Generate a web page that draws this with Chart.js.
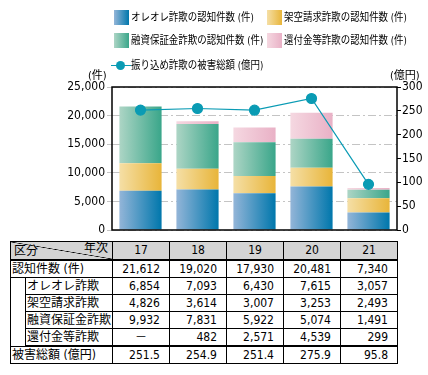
<!DOCTYPE html>
<html>
<head>
<meta charset="utf-8">
<script src="https://cdn.jsdelivr.net/npm/chart.js@4/dist/chart.umd.min.js"></script>
<style>
  body { margin: 0; background: #fff; }
  #wrap { position: relative; width: 428px; height: 375px; overflow: hidden;
          font-family: "Liberation Sans Narrow", "DejaVu Sans Condensed", "Noto Sans CJK JP", sans-serif; color: #000; }
  #chart { position: absolute; left: 0; top: 0; }
  .lg { position: absolute; font-size: 11px; line-height: 15px; white-space: nowrap;
        transform: scaleX(0.86); transform-origin: left center; }
  .sw { position: absolute; width: 15px; height: 15px; }
  .unit { position: absolute; font-size: 11px; white-space: nowrap; }
  table { position: absolute; left: 10px; top: 241px; border-collapse: collapse; table-layout: fixed; font-size: 12px; }
  td { border: 1px solid #000; height: 16px; padding: 0; line-height: 15px; white-space: nowrap; overflow: hidden; }
  td.num { text-align: right; padding-right: 9px; font-size: 12px; }
  td.hd { background: #d4d4d4; text-align: center; font-size: 12px; }
  td.lbl { padding-left: 1px; }
  td.sp { border-top: none; border-bottom: none; }
  tr.thick td { border-bottom: 2px solid #000; }
  #corner { position: relative; height: 17px;
    background: linear-gradient(to top right, transparent calc(50% - 0.6px), #000 50%, transparent calc(50% + 0.6px)); }
</style>
</head>
<body>
<div id="wrap">
  <canvas id="chart" width="428" height="240"></canvas>

  <div class="sw" style="left:114px;top:10px;background:linear-gradient(to right,#93b5d8,#0077ac)"></div>
  <div class="lg" style="left:131px;top:10px">オレオレ詐欺の認知件数 (件)</div>
  <div class="sw" style="left:267px;top:10px;background:linear-gradient(to right,#f5dfa6,#e8b53a)"></div>
  <div class="lg" style="left:284px;top:10px">架空請求詐欺の認知件数 (件)</div>
  <div class="sw" style="left:114px;top:33px;background:linear-gradient(to right,#add5c5,#3aa68a)"></div>
  <div class="lg" style="left:131px;top:33px">融資保証金詐欺の認知件数 (件)</div>
  <div class="sw" style="left:267px;top:33px;background:linear-gradient(to right,#f5d8e1,#e9b1c6)"></div>
  <div class="lg" style="left:284px;top:33px">還付金等詐欺の認知件数 (件)</div>
  <div style="position:absolute;left:111px;top:65px;width:20px;height:1px;background:#0a9bb4"></div>
  <div style="position:absolute;left:116px;top:61px;width:9px;height:9px;border-radius:50%;background:#0a9bb4"></div>
  <div class="lg" style="left:131px;top:58px">振り込め詐欺の被害総額 (億円)</div>
  <div class="unit" style="left:88px;top:66px">(件)</div>
  <div class="unit" style="left:390px;top:66px">(億円)</div>

  <table id="tbl"></table>
</div>
<script>
// data
const years = ['17', '18', '19', '20', '21'];
const oreore = [6854, 7093, 6430, 7615, 3057];
const kakuu = [4826, 3614, 3007, 3253, 2493];
const yushi = [9932, 7831, 5922, 5074, 1491];
const kanpu = [null, 482, 2571, 4539, 299];
const totalCount = [21612, 19020, 17930, 20481, 7340];
const damage = [251.5, 254.9, 251.4, 275.9, 95.8];

const FONT = '"Liberation Sans Narrow", "DejaVu Sans Condensed", "Noto Sans CJK JP", sans-serif';

// horizontal gradient per bar
const grad = (light, dark) => (ctx) => {
    const chart = ctx.chart;
    if (!chart.chartArea || ctx.dataIndex === undefined) return dark;
    const x = chart.scales.x.getPixelForValue(ctx.dataIndex);
    const g = chart.ctx.createLinearGradient(x - 21, 0, x + 21, 0);
    g.addColorStop(0, light);
    g.addColorStop(1, dark);
    return g;
};

const frame = {
    id: 'frame',
    afterDatasetsDraw(chart) {
        const { ctx, chartArea: a } = chart;
        ctx.save();
        ctx.strokeStyle = '#000';
        ctx.lineWidth = 1.5;
        ctx.strokeRect(a.left, a.top, a.right - a.left, a.bottom - a.top);
        ctx.restore();
    }
};

new Chart(document.getElementById('chart'), {
    data: {
        labels: years,
        datasets: [
            { type: 'line', label: '振り込め詐欺の被害総額（億円）', data: damage, yAxisID: 'y2', order: 0,
              borderColor: '#0a9bb4', backgroundColor: '#0a9bb4', borderWidth: 1.2,
              pointRadius: 5, pointHoverRadius: 5, tension: 0 },
            { type: 'bar', label: 'オレオレ詐欺', data: oreore, order: 1, backgroundColor: grad('#93b5d8', '#0077ac') },
            { type: 'bar', label: '架空請求詐欺', data: kakuu, order: 1, backgroundColor: grad('#f5dfa6', '#e8b53a') },
            { type: 'bar', label: '融資保証金詐欺', data: yushi, order: 1, backgroundColor: grad('#add5c5', '#3aa68a') },
            { type: 'bar', label: '還付金等詐欺', data: kanpu, order: 1, backgroundColor: grad('#f5d8e1', '#e9b1c6') }
        ]
    },
    options: {
        responsive: false,
        animation: false,
        layout: { padding: { top: 87, bottom: 10, left: 0, right: 0 } },
        datasets: { bar: { barPercentage: 0.74, categoryPercentage: 1, stack: 's' } },
        plugins: { legend: { display: false }, tooltip: { enabled: false } },
        scales: {
            x: { display: false, stacked: true, offset: true },
            y: {
                stacked: true, min: 0, max: 25000,
                ticks: { stepSize: 5000, padding: 2, color: '#000', font: { family: FONT, size: 12 },
                         callback: v => v.toLocaleString('en-US') },
                grid: { color: '#c4c4c4', lineWidth: 1, tickLength: 5 },
                border: { display: false, dash: [8, 3, 2, 3] },
                afterFit: s => { s.width = 112; }
            },
            y2: {
                position: 'right', min: 0, max: 300,
                ticks: { stepSize: 50, padding: 1, color: '#000', font: { family: FONT, size: 12 } },
                grid: { drawOnChartArea: false, color: '#000', tickLength: 4 },
                border: { display: false },
                afterFit: s => { s.width = 31; }
            }
        }
    },
    plugins: [frame]
});

// table below the chart
const fmt = v => v === null ? '－' : v.toLocaleString('en-US');
const tbl = document.getElementById('tbl');
let html = '<colgroup><col style="width:15px"><col style="width:87px">' +
    years.map(() => '<col style="width:57px">').join('') + '</colgroup>';
html += '<tr class="thick"><td class="hd" colspan="2" style="padding:0"><div id="corner">' +
    '<span style="position:absolute;left:3px;top:2px">区分</span>' +
    '<span style="position:absolute;right:4px;top:-1px">年次</span></div></td>' +
    years.map(y => '<td class="hd">' + y + '</td>').join('') + '</tr>';
html += '<tr><td class="lbl" colspan="2">認知件数 (件)</td>' +
    totalCount.map(v => '<td class="num">' + fmt(v) + '</td>').join('') + '</tr>';
const subs = [['オレオレ詐欺', oreore], ['架空請求詐欺', kakuu], ['融資保証金詐欺', yushi], ['還付金等詐欺', kanpu]];
subs.forEach((s, i) => {
    html += '<tr' + (i === 3 ? ' class="thick"' : '') + '>' +
        (i === 0 ? '<td rowspan="4" class="sp"></td>' : '') +
        '<td class="lbl">' + s[0] + '</td>' +
        s[1].map(v => '<td class="num"' + (v === null ? ' style="text-align:center;padding-right:0"' : '') + '>' +
            fmt(v) + '</td>').join('') + '</tr>';
});
html += '<tr><td class="lbl" colspan="2">被害総額 (億円)</td>' +
    damage.map(v => '<td class="num">' + v.toFixed(1) + '</td>').join('') + '</tr>';
tbl.innerHTML = html;
</script>
</body>
</html>
